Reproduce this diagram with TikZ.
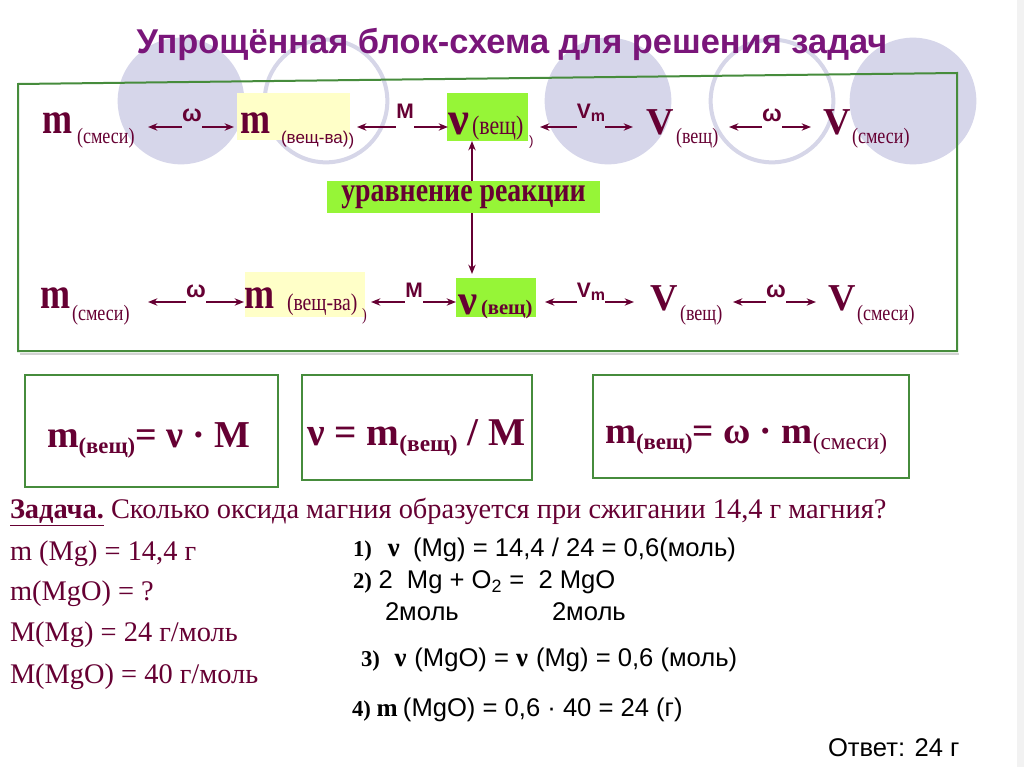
\documentclass[tikz,border=0pt]{standalone}
\usepackage{fontspec}
\setmainfont{Liberation Serif}
\newfontfamily\sansf{Liberation Sans}
\newfontfamily\cserif[FakeStretch=0.82]{Liberation Serif}
\usetikzlibrary{arrows.meta}
\definecolor{ttl}{RGB}{122,22,122}
\definecolor{mar}{RGB}{102,0,51}
\definecolor{frm}{RGB}{70,140,60}
\definecolor{lime}{RGB}{150,245,55}
\definecolor{pale}{RGB}{255,255,200}
\definecolor{lav}{RGB}{214,214,234}
\definecolor{lavline}{RGB}{214,214,232}
\newcommand\setfz[1]{\fontsize{#1}{#1}\selectfont}
\begin{document}
\begin{tikzpicture}[x=0.75pt,y=-0.75pt,
  txt/.style={inner sep=0pt,outer sep=0pt,anchor=base west,text=mar},
  txtk/.style={inner sep=0pt,outer sep=0pt,anchor=base west,text=black},
  lbl/.style={inner sep=0pt,anchor=base,text=mar,font=\sansf\bfseries\setfz{15.75}},
  wlbl/.style={lbl,font=\sansf\bfseries\setfz{17.5}},
  arr/.style={draw=mar,line width=1.1pt,-{Stealth[length=7pt,width=5.5pt]}},
  bg/.style={draw=none,inner sep=0pt,outer sep=0pt},
  fbox/.style={draw=frm,line width=1.2pt,inner sep=0pt,outer sep=0pt},
  big/.style={font=\cserif\bfseries\setfz{33}},
  bigV/.style={font=\bfseries\setfz{28.5}},
  sub/.style={font=\cserif\setfz{16.5}}
]
\useasboundingbox (0,0) rectangle (1024,767);
\fill[white] (0,0) rectangle (1024,767);
\fill[gray!10] (1017,0) rectangle (1024,767);
% decorative circles
\fill[lav] (181,101) circle[radius=47.5pt];
\draw[lavline,line width=3pt] (326,101) circle[radius=46pt];
\fill[lav] (608,101) circle[radius=47.5pt];
\draw[lavline,line width=3pt] (772,101) circle[radius=46pt];
\fill[lav] (913,101) circle[radius=47.5pt];
% title
\node[anchor=base,inner sep=0pt,font=\sansf\bfseries\setfz{25.8},text=ttl] (title) at (512,54) {Упрощённая блок-схема для решения задач};
% frame
\draw[gray!35,line width=2pt] (20,354) -- (959,354);
\draw[frm,line width=1.5pt] (18,84) -- (957,73) -- (957,351) -- (18,351) -- cycle;

% ---------- row 1 ----------
\node[bg,fill=pale,minimum width=84.75pt,minimum height=35.25pt] (r1yb) at (293.5,116.5) {};
\node[bg,fill=lime,minimum width=60.75pt,minimum height=36pt] (r1g) at (487.5,117) {};
\node[txt,big] (r1a) at (42,133) {m};
\node[txt,sub] (r1as) at (77,143) {(смеси)};
\node[wlbl] (r1w) at (192,121) {ω};
\coordinate (r1wL) at (148,127); \coordinate (r1wR) at (234,127);
\draw[arr] (r1w.west |- r1wL) -- (r1wL);
\draw[arr] (r1w.east |- r1wR) -- (r1wR);
\node[txt,big] (r1b) at (240,133) {m};
\node[txt,font=\sansf\setfz{12.75}] (r1bs) at (281,143) {(вещ-ва)\raisebox{-2pt}{)}};
\node[lbl] (r1M) at (405,118) {M};
\coordinate (r1ML) at (357,127); \coordinate (r1MR) at (448,127);
\draw[arr] (r1M.west |- r1ML) -- (r1ML);
\draw[arr] (r1M.east |- r1MR) -- (r1MR);
\node[txt,font=\bfseries\setfz{35}] (r1c) at (448,134) {ν};
\node[txt,font=\cserif\setfz{20}] (r1cs) at (472,134) {(вещ)};
\node[txt,font=\sansf\setfz{10}] (r1cx) at (529,145) {)};
\node[lbl] (r1Vm) at (591,118) {V\raisebox{-2.5pt}{\setfz{12}m}};
\coordinate (r1VL) at (540,127); \coordinate (r1VR) at (633,127);
\draw[arr] (r1Vm.west |- r1VL) -- (r1VL);
\draw[arr] (r1Vm.east |- r1VR) -- (r1VR);
\node[txt,bigV] (r1d) at (646,134) {V};
\node[txt,sub] (r1ds) at (676,143) {(вещ)};
\node[wlbl] (r1w2) at (772,121) {ω};
\coordinate (r1w2L) at (729,127); \coordinate (r1w2R) at (811,127);
\draw[arr] (r1w2.west |- r1w2L) -- (r1w2L);
\draw[arr] (r1w2.east |- r1w2R) -- (r1w2R);
\node[txt,bigV] (r1e) at (823,134) {V};
\node[txt,sub] (r1es) at (852,143) {(смеси)};

% ---------- equation box ----------
\node[bg,fill=lime,minimum width=204.75pt,minimum height=24pt,text=mar,font=\cserif\bfseries\setfz{25.5}] (eq) at (463.5,197) {уравнение реакции};
\coordinate (vx) at (472,0);
\draw[arr] (vx |- eq.north) -- (vx |- r1g.south);

% ---------- row 2 ----------
\node[bg,fill=pale,minimum width=90pt,minimum height=33.75pt] (r2yb) at (305,294.5) {};
\node[bg,fill=lime,minimum width=60pt,minimum height=29.25pt] (r2g) at (496,297.5) {};
\draw[arr,shorten >=3pt] (vx |- eq.south) -- (vx |- r2g.north);
\node[txt,big] (r2a) at (40,308) {m};
\node[txt,sub] (r2as) at (72,320) {(смеси)};
\node[wlbl] (r2w) at (196,297) {ω};
\coordinate (r2wL) at (148,302); \coordinate (r2wR) at (244,302);
\draw[arr] (r2w.west |- r2wL) -- (r2wL);
\draw[arr] (r2w.east |- r2wR) -- (r2wR);
\node[txt,big] (r2b) at (244,308) {m};
\node[txt,font=\cserif\setfz{18}] (r2bs) at (287,310) {(вещ-ва)};
\node[txt,font=\cserif\setfz{13}] (r2bx) at (362,320) {)};
\node[lbl] (r2M) at (414,297) {M};
\coordinate (r2ML) at (371,302); \coordinate (r2MR) at (456,302);
\draw[arr] (r2M.west |- r2ML) -- (r2ML);
\draw[arr] (r2M.east |- r2MR) -- (r2MR);
\node[txt,font=\bfseries\setfz{32}] (r2c) at (458,314) {ν};
\node[txt,font=\bfseries\setfz{15.5}] (r2cs) at (481,314) {(вещ)};
\node[lbl] (r2Vm) at (591,297) {V\raisebox{-2.5pt}{\setfz{12}m}};
\coordinate (r2VL) at (545,302); \coordinate (r2VR) at (634,302);
\draw[arr] (r2Vm.west |- r2VL) -- (r2VL);
\draw[arr] (r2Vm.east |- r2VR) -- (r2VR);
\node[txt,bigV] (r2d) at (650,310) {V};
\node[txt,sub] (r2ds) at (680,320) {(вещ)};
\node[wlbl] (r2w2) at (776,297) {ω};
\coordinate (r2w2L) at (733,302); \coordinate (r2w2R) at (816,302);
\draw[arr] (r2w2.west |- r2w2L) -- (r2w2L);
\draw[arr] (r2w2.east |- r2w2R) -- (r2w2R);
\node[txt,bigV] (r2e) at (828,310) {V};
\node[txt,sub] (r2es) at (857,320) {(смеси)};

% ---------- formula boxes ----------
\node[fbox,minimum width=189.75pt,minimum height=84pt] (f1box) at (151.5,431) {};
\node[fbox,minimum width=172.5pt,minimum height=78.75pt] (f2box) at (417,427.5) {};
\node[fbox,minimum width=237pt,minimum height=77.25pt] (f3box) at (751,426.5) {};
\node[txt,font=\bfseries\setfz{28.5}] (f1) at (47,447) {m\raisebox{-4.5pt}{\setfz{17}(вещ)}= ν · M};
\node[txt,font=\bfseries\setfz{29.5}] (f2) at (307,445) {ν = m\raisebox{-4.5pt}{\setfz{17.5}(вещ)} / M};
\node[txt,font=\bfseries\setfz{28}] (f3) at (605,443) {m\raisebox{-4.5pt}{\setfz{17}(вещ)}= ω · m\raisebox{-5pt}{\mdseries\setfz{17.5}(смеси)}};

% ---------- problem ----------
\node[txt,font=\setfz{21.3}] (task) at (10,518) {\underline{\textbf{Задача.}} Сколько оксида магния образуется при сжигании 14,4 г магния?};
\node[txt,font=\setfz{21.3}] (d1) at (10,560) {m (Mg) = 14,4 г};
\node[txt,font=\setfz{21.3}] (d2) at (10,600) {m(MgO) = ?};
\node[txt,font=\setfz{21.3}] (d3) at (10,641) {M(Mg) = 24 г/моль};
\node[txt,font=\setfz{21.3}] (d4) at (10,683) {M(MgO) = 40 г/моль};

\node[txtk,font=\setfz{17}] (s1) at (353,556) {\textbf{1)}\hspace{12pt}{\setfz{20}\textbf{ν}}\hspace{10pt}{\sansf\setfz{19.2}(Mg) = 14,4 / 24 = 0,6(моль)}};
\node[txtk,font=\setfz{17}] (s2) at (353,588) {\textbf{2)}\hspace{5pt}{\sansf\setfz{19.2}2\ \ Mg + O\textsubscript{2} =\ \ 2 MgO}};
\node[txtk,font=\sansf\setfz{19.2}] (s2a) at (385,620) {2моль};
\node[txtk,font=\sansf\setfz{19.2}] (s2b) at (552,620) {2моль};
\node[txtk,font=\setfz{17}] (s3) at (361,666) {\textbf{3)}\hspace{11pt}{\setfz{20}\textbf{ν}}\hspace{6pt}{\sansf\setfz{19.2}(MgO) = }{\setfz{20}\textbf{ν}}\hspace{6pt}{\sansf\setfz{19.2}(Mg) = 0,6 (моль)}};
\node[txtk,font=\setfz{17}] (s4) at (352,716) {\textbf{4) {\setfz{19}m}}\hspace{4pt}{\sansf\setfz{19.2}(MgO) = 0,6 · 40 = 24 (г)}};
\node[txtk,font=\sansf\setfz{19.2}] (ans) at (828,756) {Ответ: 24 г};
\end{tikzpicture}
\end{document}
